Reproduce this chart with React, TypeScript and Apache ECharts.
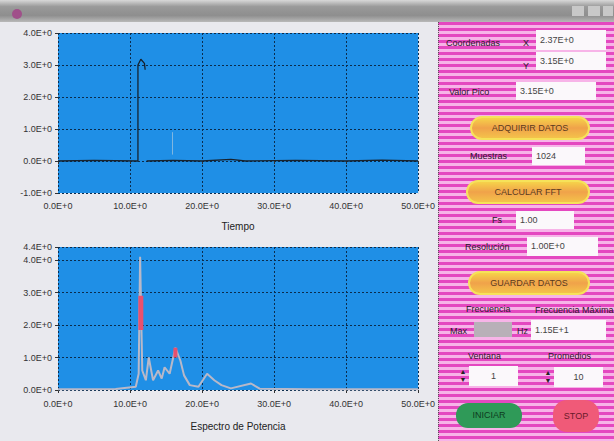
import React, { useEffect, useRef } from "react";
import * as echarts from "echarts";

// ---- data ----
const xTicksTime = [0, 10, 20, 30, 40, 50];
const yTicksTime = [-1, 0, 1, 2, 3, 4];
const timeSignal: (number | null)[][] = [
  [0, 0], [5, 0.02], [10.9, 0], [11.1, 0], [11.1, 3.0], [11.5, 3.18], [12.0, 3.05], [12.1, 2.85],
];
const timeSignalTail: number[][] = [
  [12.3, 0], [16, 0.02], [20, 0], [24, 0.05], [26, 0], [33, 0.02], [40, 0], [45, 0.03], [50, 0],
];
const timeFaint: number[][] = [[15.9, 0.9], [15.9, 0.2]];

const xTicksFreq = [0, 10, 20, 30, 40, 50];
const yTicksFreq = [0, 1, 2, 3, 4, 4.4];
const spectrum: number[][] = [
  [0, 0.02], [8, 0.03], [10.8, 0.1], [11.2, 0.5], [11.4, 4.1], [11.7, 0.6], [12.2, 0.3],
  [12.6, 1.0], [13.2, 0.3], [13.9, 0.6], [14.4, 0.35], [14.8, 0.7], [15.5, 0.5], [16.3, 1.3],
  [17.0, 0.9], [17.5, 0.45], [18.3, 0.15], [19.5, 0.1], [20.7, 0.5], [21.7, 0.3], [22.7, 0.15],
  [24, 0.05], [26.8, 0.2], [28, 0.04], [35, 0.02], [50, 0.02],
];
const spectrumPeakA: number[][] = [[11.5, 1.85], [11.5, 2.9]];
const spectrumPeakB: number[][] = [[16.3, 1.0], [16.3, 1.3]];

const fmtE = (v: number) => v.toFixed(1) + "E+0";

const FONT = "'Liberation Sans', Arial, sans-serif";

function Chart() {
  const ref = useRef<HTMLDivElement>(null);
  useEffect(() => {
    const chart = echarts.init(ref.current!, null, { renderer: "svg" });
    const split = { show: true, lineStyle: { color: "#0b2c4d", type: [2, 2] as any, width: 1 } };
    const axisLabel = { color: "#333", fontSize: 9, fontFamily: FONT };
    chart.setOption({
      animation: false,
      grid: [
        { left: 58, top: 33, width: 368, height: 160, show: true, backgroundColor: "#1f8fe6", borderWidth: 0 },
        { left: 58, top: 247, width: 368, height: 143, show: true, backgroundColor: "#1f8fe6", borderWidth: 0 },
      ],
      xAxis: [
        {
          gridIndex: 0, type: "value", min: xTicksTime[0], max: xTicksTime[xTicksTime.length - 1], interval: 10,
          axisLine: { show: false }, axisTick: { show: true, length: 3, lineStyle: { color: "#333" } },
          axisLabel: { ...axisLabel, margin: 8, formatter: (v: number) => fmtE(v) }, splitLine: split,
          name: "Tiempo", nameLocation: "middle", nameGap: 28,
          nameTextStyle: { color: "#222", fontSize: 10, fontFamily: FONT },
        },
        {
          gridIndex: 1, type: "value", min: xTicksFreq[0], max: xTicksFreq[xTicksFreq.length - 1], interval: 10,
          axisLine: { show: false }, axisTick: { show: true, length: 3, lineStyle: { color: "#333" } },
          axisLabel: { ...axisLabel, margin: 9, formatter: (v: number) => fmtE(v) }, splitLine: split,
          name: "Espectro de Potencia", nameLocation: "middle", nameGap: 31,
          nameTextStyle: { color: "#222", fontSize: 10, fontFamily: FONT },
        },
      ],
      yAxis: [
        {
          gridIndex: 0, type: "value", min: yTicksTime[0], max: yTicksTime[yTicksTime.length - 1], interval: 1,
          axisLine: { show: false }, axisTick: { show: true, length: 3, lineStyle: { color: "#333" } },
          axisLabel: { ...axisLabel, margin: 6, formatter: (v: number) => fmtE(v) }, splitLine: split,
        },
        {
          gridIndex: 1, type: "value", min: yTicksFreq[0], max: yTicksFreq[yTicksFreq.length - 1], interval: 1,
          axisLine: { show: false }, axisTick: { show: true, length: 3, lineStyle: { color: "#333" } },
          axisLabel: { ...axisLabel, margin: 6, formatter: (v: number) => fmtE(v) }, splitLine: split,
        },
      ],
      series: [
        { type: "line", xAxisIndex: 0, yAxisIndex: 0, data: timeSignal, showSymbol: false, lineStyle: { color: "#16222e", width: 1.3 } },
        { type: "line", xAxisIndex: 0, yAxisIndex: 0, data: timeSignalTail, showSymbol: false, lineStyle: { color: "#16222e", width: 1.3 } },
        { type: "line", xAxisIndex: 0, yAxisIndex: 0, data: timeFaint, showSymbol: false, lineStyle: { color: "#7fb6e0", width: 1 } },
        { type: "line", xAxisIndex: 1, yAxisIndex: 1, data: spectrum, showSymbol: false, lineStyle: { color: "#b8b8c8", width: 2 } },
        { type: "line", xAxisIndex: 1, yAxisIndex: 1, data: spectrumPeakA, showSymbol: false, lineStyle: { color: "#e8506e", width: 5 } },
        { type: "line", xAxisIndex: 1, yAxisIndex: 1, data: spectrumPeakB, showSymbol: false, lineStyle: { color: "#e8506e", width: 4 } },
      ],
    });
    return () => chart.dispose();
  }, []);
  return <div ref={ref} style={{ position: "absolute", left: 0, top: 0, width: 438, height: 441 }} />;
}

const abs = (l: number, t: number, w?: number, h?: number): React.CSSProperties => ({
  position: "absolute", left: l, top: t, width: w, height: h,
});

const Label = ({ l, t, text }: { l: number; t: number; text: string }) => (
  <div style={{ ...abs(l, t), fontSize: 9, color: "#2a1a2a", whiteSpace: "nowrap", lineHeight: "10px" }}>{text}</div>
);

const Input = ({ l, t, w, h, text }: { l: number; t: number; w: number; h: number; text: string }) => (
  <div style={{ ...abs(l, t, w, h), background: "#fbf8fb", fontSize: 9, color: "#444", lineHeight: h + "px", paddingLeft: 4, boxSizing: "border-box", whiteSpace: "nowrap" }}>{text}</div>
);

const OrangeBtn = ({ l, t, w, h, text }: { l: number; t: number; w: number; h: number; text: string }) => (
  <div style={{ ...abs(l, t, w, h), borderRadius: h / 2, background: "linear-gradient(#f6d24a, #f0a24a 50%, #f4c24a)", border: "2px solid #f6e25a", boxSizing: "border-box", fontSize: 9, color: "#5a3a20", textAlign: "center", lineHeight: h - 4 + "px", whiteSpace: "nowrap" }}>{text}</div>
);

const Spin = ({ l, t, text }: { l: number; t: number; text: string }) => (
  <div style={{ ...abs(l, t, 60, 20) }}>
    <div style={{ ...abs(0, 2, 10, 16), fontSize: 7, lineHeight: "8px", color: "#222", textAlign: "center" }}>▲<br />▼</div>
    <div style={{ ...abs(11, 0, 49, 20), background: "#fbf8fb", fontSize: 9, color: "#444", lineHeight: "20px", textAlign: "center" }}>{text}</div>
  </div>
);

export default function App() {
  return (
    <div style={{ position: "fixed", left: 0, top: 0, width: 614, height: 441, overflow: "hidden", background: "#e9e9ee", fontFamily: FONT }}>
      <Chart />
      {/* title bar */}
      <div style={{ ...abs(0, 0, 614, 22), background: "linear-gradient(#d8d8d8, #9a9a9a 30%, #8e8e8e 70%, #b8b8b8)" }} />
      <div style={{ ...abs(12, 9, 10, 10), borderRadius: 5, background: "#a0508a" }} />
      <div style={{ ...abs(572, 6, 12, 10), background: "#c8c8c8" }} />
      <div style={{ ...abs(588, 6, 12, 10), background: "#c8c8c8" }} />
      <div style={{ ...abs(603, 6, 10, 10), background: "#c8c8c8" }} />
      {/* right panel */}
      <div style={{ ...abs(438, 22, 176, 419), background: "repeating-linear-gradient(to bottom, #e448c0 0px, #e448c0 3px, #f7b4e8 3px, #f7b4e8 6px)", borderLeft: "1px dotted #555", boxSizing: "border-box" }} />
      <Label l={446} t={38} text="Coordenadas" />
      <Label l={523} t={38} text="X" />
      <Input l={536} t={30} w={70} h={20} text="2.37E+0" />
      <Label l={523} t={61} text="Y" />
      <Input l={536} t={52} w={70} h={18} text="3.15E+0" />
      <Label l={449} t={87} text="Valor Pico" />
      <Input l={516} t={82} w={80} h={18} text="3.15E+0" />
      <OrangeBtn l={470} t={116} w={120} h={24} text="ADQUIRIR DATOS" />
      <Label l={470} t={151} text="Muestras" />
      <Input l={532} t={147} w={53} h={18} text="1024" />
      <OrangeBtn l={466} t={180} w={124} h={24} text="CALCULAR FFT" />
      <Label l={492} t={215} text="Fs" />
      <Input l={516} t={211} w={58} h={18} text="1.00" />
      <Label l={465} t={242} text="Resolución" />
      <Input l={527} t={237} w={71} h={19} text="1.00E+0" />
      <OrangeBtn l={468} t={271} w={122} h={24} text="GUARDAR DATOS" />
      <Label l={466} t={304} text="Frecuencia" />
      <Label l={535} t={305} text="Frecuencia Máxima" />
      <Label l={450} t={326} text="Max" />
      <div style={{ ...abs(474, 322, 38, 15), background: "#b8b0b8" }} />
      <Label l={517} t={326} text="Hz" />
      <Input l={531} t={320} w={75} h={20} text="1.15E+1" />
      <Label l={468} t={351} text="Ventana" />
      <Label l={548} t={351} text="Promedios" />
      <Spin l={458} t={366} text="1" />
      <Spin l={543} t={367} text="10" />
      <div style={{ ...abs(456, 403, 66, 25), borderRadius: 12, background: "#2f9a58", fontSize: 9, color: "#0e3a1e", textAlign: "center", lineHeight: "25px" }}>INICIAR</div>
      <div style={{ ...abs(553, 400, 46, 32), borderRadius: 14, background: "#f05a78", fontSize: 9, color: "#6a1a2a", textAlign: "center", lineHeight: "32px" }}>STOP</div>
    </div>
  );
}
